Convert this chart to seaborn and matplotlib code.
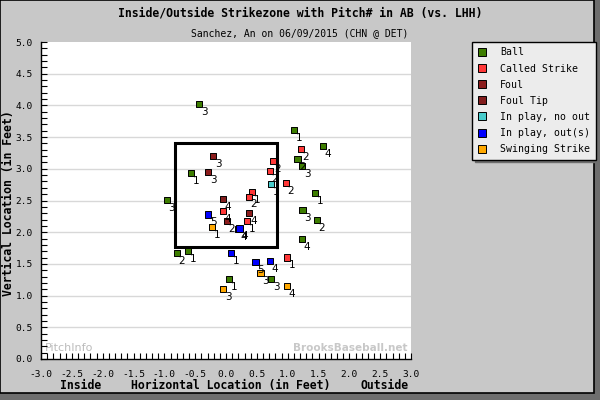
import matplotlib
matplotlib.use('Agg')
import matplotlib.pyplot as plt
import seaborn as sns
import pandas as pd
from matplotlib.patches import Rectangle
from matplotlib.ticker import MultipleLocator, FormatStrFormatter

# pitch locations in feet, with the pitch number in the at-bat
ball_x = [-0.44, 1.10, 1.57, 1.16, 1.23, -0.57, -0.96, 1.44, 1.24, 1.47, 1.23, -0.80, -0.62, 0.73, 0.05]
ball_y = [4.02, 3.61, 3.36, 3.15, 3.04, 2.93, 2.51, 2.62, 2.35, 2.19, 1.89, 1.67, 1.70, 1.26, 1.26]
ball_n = [3, 1, 4, 2, 3, 1, 3, 1, 3, 2, 4, 2, 1, 3, 1]

called_x = [1.21, 0.76, 0.71, 0.97, 0.42, 0.37, -0.05, 0.34, 0.99]
called_y = [3.31, 3.12, 2.96, 2.77, 2.63, 2.56, 2.33, 2.18, 1.60]
called_n = [2, 2, 2, 2, 1, 2, 4, 1, 1]

foul_x = [-0.21, -0.29, 0.37, 0.01]
foul_y = [3.20, 2.95, 2.30, 2.18]
foul_n = [3, 3, 4, 2]

tip_x = [-0.05]
tip_y = [2.52]
tip_n = [4]

safe_x = [0.73]
safe_y = [2.76]
safe_n = [1]

out_x = [-0.29, 0.20, 0.22, 0.08, 0.48, 0.71]
out_y = [2.28, 2.05, 2.06, 1.67, 1.53, 1.54]
out_n = [5, 4, 4, 1, 5, 4]

swing_x = [-0.23, 0.56, -0.05, 0.99]
swing_y = [2.08, 1.36, 1.10, 1.15]
swing_n = [1, 3, 3, 4]

results = ['Ball', 'Called Strike', 'Foul', 'Foul Tip',
           'In play, no out', 'In play, out(s)', 'Swinging Strike']
colors = ['#3d7d00', '#ff3838', '#8b1c1c', '#821d1d', '#48cccc', '#0000ff', '#ffa800']

zone_left, zone_right = -0.83, 0.82
zone_bottom, zone_top = 1.76, 3.41

groups = [(ball_x, ball_y, ball_n), (called_x, called_y, called_n),
          (foul_x, foul_y, foul_n), (tip_x, tip_y, tip_n),
          (safe_x, safe_y, safe_n), (out_x, out_y, out_n),
          (swing_x, swing_y, swing_n)]
frames = []
for res, (xs, ys, ns) in zip(results, groups):
    frames.append(pd.DataFrame({'x': xs, 'y': ys, 'n': ns, 'result': res}))
df = pd.concat(frames, ignore_index=True)

mono = 'DejaVu Sans Mono'
fig = plt.figure(figsize=(6, 4), dpi=100, facecolor='#6e6e6e')
# gray panel with black border (shadow shows at right / bottom)
fig.patches.append(Rectangle((0, 7 / 400), 594 / 600, 393 / 400, transform=fig.transFigure,
                             facecolor='#c8c8c8', edgecolor='black', lw=1.2, zorder=-10))

ax = fig.add_axes([41 / 600, 41 / 400, 370 / 600, 317 / 400])
ax.set_facecolor('white')

for yy in [0.5, 1.0, 1.5, 2.0, 2.5, 3.0, 3.5, 4.0, 4.5]:
    ax.axhline(yy, color='#d8d8d8', lw=1.0, zorder=0)

ax.add_patch(Rectangle((zone_left, zone_bottom), zone_right - zone_left, zone_top - zone_bottom,
                       fill=False, edgecolor='black', lw=2.2, zorder=2))

sns.scatterplot(data=df, x='x', y='y', hue='result', hue_order=results,
                palette=dict(zip(results, colors)), marker='s', s=20,
                edgecolor='black', linewidth=0.7, ax=ax, zorder=3)

for _, r in df.iterrows():
    ax.annotate(str(r['n']), (r['x'], r['y']), xytext=(3.7, -5.6), textcoords='offset points',
                ha='center', va='center', fontsize=7.5, color='black', zorder=4)

ax.set_xlim(-3, 3)
ax.set_ylim(0, 5)
ax.xaxis.set_major_locator(MultipleLocator(0.5))
ax.xaxis.set_minor_locator(MultipleLocator(0.1))
ax.yaxis.set_major_locator(MultipleLocator(0.5))
ax.yaxis.set_minor_locator(MultipleLocator(0.1))
ax.xaxis.set_major_formatter(FormatStrFormatter('%.1f'))
ax.yaxis.set_major_formatter(FormatStrFormatter('%.1f'))
ax.tick_params(which='both', direction='in', length=4, width=0.8, color='black')
ax.tick_params(axis='x', pad=8)
ax.tick_params(axis='y', pad=6)
for lab in ax.get_xticklabels() + ax.get_yticklabels():
    lab.set_fontfamily(mono)
    lab.set_fontsize(6.8)
for side in ['top', 'right']:
    ax.spines[side].set_visible(False)
for side in ['left', 'bottom']:
    ax.spines[side].set_linewidth(1.0)
ax.set_xlabel('')
ax.set_ylabel('')

# watermarks
ax.text(-2.93, 0.17, 'PitchInfo', fontsize=8, color='#bcbcbc', ha='left', va='center', zorder=1)
ax.text(2.95, 0.17, 'BrooksBaseball.net', fontsize=7.5, fontweight='bold', color='#c8c8c8',
        ha='right', va='center', zorder=1)

fig.text(0.5, 1 - 13 / 400, 'Inside/Outside Strikezone with Pitch# in AB (vs. LHH)',
         ha='center', va='center', fontfamily=mono, fontweight='bold', fontsize=8.3)
fig.text(0.5, 1 - 33 / 400, 'Sanchez, An on 06/09/2015 (CHN @ DET)',
         ha='center', va='center', fontfamily=mono, fontsize=7)
fig.text(9 / 600, 1 - 203 / 400, 'Vertical Location (in Feet)', rotation=90,
         ha='center', va='center', fontfamily=mono, fontweight='bold', fontsize=8.3)
for label, xc in [('Inside', 81), ('Horizontal Location (in Feet)', 231), ('Outside', 385)]:
    fig.text(xc / 600, 1 - 389 / 400, label, ha='center', va='baseline',
             fontfamily=mono, fontweight='bold', fontsize=8.3)

sns.move_legend(ax, 'upper left', bbox_to_anchor=(472 / 600, 1 - 42 / 400),
                bbox_transform=fig.transFigure, title=None, frameon=True, fancybox=False,
                shadow={'color': '#6e6e6e', 'alpha': 1}, borderaxespad=0,
                prop={'family': mono, 'size': 7.1}, labelspacing=0.62,
                handlelength=1.0, handletextpad=1.3, borderpad=0.55, markerscale=1.4)
leg = ax.get_legend()
leg.get_frame().set_facecolor('#ececec')
leg.get_frame().set_edgecolor('black')
leg.get_frame().set_alpha(1)
leg.get_frame().set_linewidth(1.0)

fig.savefig('out.png', dpi=100, facecolor=fig.get_facecolor())
